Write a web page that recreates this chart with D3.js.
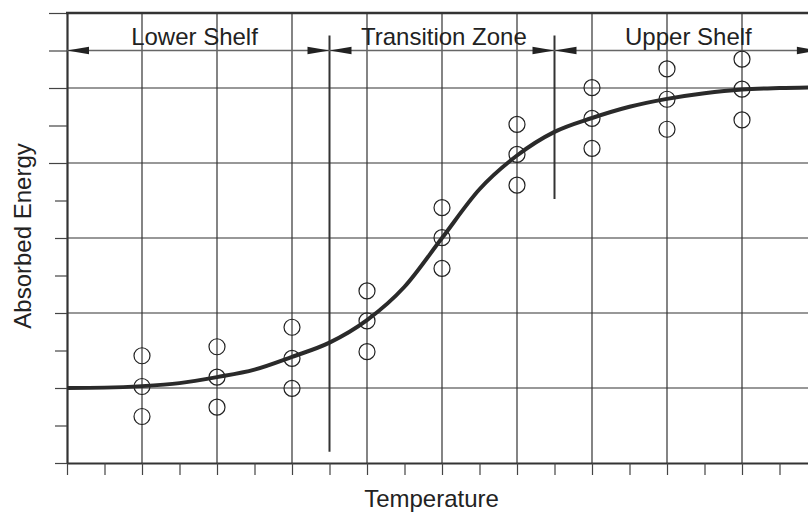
<!DOCTYPE html>
<html>
<head>
<meta charset="utf-8">
<script src="https://cdn.jsdelivr.net/npm/d3@7"></script>
<style>
  html, body { margin: 0; padding: 0; background: #fff; }
  svg { display: block; overflow: hidden; }
  text { font-family: "Liberation Sans", Arial, Helvetica, sans-serif; fill: #222; }
</style>
</head>
<body>
<svg id="chart" width="808" height="512"></svg>
<script>
// measured test points (three specimens per temperature)
const temps = [2, 4, 6, 8, 10, 12, 14, 16, 18];
const energyHigh = [2.86, 3.10, 3.62, 4.59, 6.81, 9.03, 10.01, 10.51, 10.77];
const energyMid = [2.04, 2.29, 2.79, 3.79, 6.01, 8.23, 9.19, 9.70, 9.97];
const energyLow = [1.24, 1.49, 1.99, 2.97, 5.19, 7.41, 8.39, 8.90, 9.15];

// fitted transition curve
const fitTemps = [0, 1, 2, 3, 4, 5, 6, 7, 8, 9, 10, 11, 12, 13, 14, 15, 16, 17, 18, 19, 20];
const fitEnergy = [2.00, 2.01, 2.05, 2.13, 2.29, 2.49, 2.83, 3.21, 3.81, 4.70, 6.00, 7.30, 8.20, 8.83, 9.20, 9.50, 9.71, 9.86, 9.96, 10.00, 10.02];

// zones
const zoneNames = ['Lower Shelf', 'Transition Zone', 'Upper Shelf'];
const zoneBounds = [0, 7, 13, 20.05];
const zoneLabelTemps = [3.4, 10.05, 16.57];
const dividerTemps = [7, 13];
const dividerBottoms = [0.3, 7.04];
const dividerTop = 11.4;
const arrowLevel = 11;

const svg = d3.select('#chart');

const x = d3.scaleLinear().domain([0, 20]).range([67, 817]);
const y = d3.scaleLinear().domain([0, 12]).range([463, 13]);

// Grid
const grid = svg.append('g');
grid.selectAll('.vgrid')
    .data(d3.range(2, 20, 2))
    .enter().append('line')
    .attr('x1', d => x(d)).attr('x2', d => x(d))
    .attr('y1', y(12)).attr('y2', y(0))
    .attr('stroke', '#333').attr('stroke-width', 1.2);
grid.selectAll('.hgrid')
    .data(d3.range(2, 12, 2))
    .enter().append('line')
    .attr('x1', x(0)).attr('x2', x(20))
    .attr('y1', d => y(d)).attr('y2', d => y(d))
    .attr('stroke', '#333').attr('stroke-width', 1.2);

// Axes (no labels)
const xAxis = svg.append('g')
    .attr('transform', `translate(0,${y(0)})`)
    .call(d3.axisBottom(x).tickValues(d3.range(0, 20, 1)).tickSizeInner(12).tickSizeOuter(0).tickFormat(''));
xAxis.select('.domain').attr('stroke', '#333').attr('stroke-width', 2.2);
xAxis.selectAll('.tick line').attr('stroke', '#444').attr('stroke-width', 1.2);

const yAxis = svg.append('g')
    .attr('transform', `translate(${x(0)},0)`)
    .call(d3.axisLeft(y).tickValues(d3.range(0, 13, 1)).tickSizeInner(12).tickSizeOuter(0).tickFormat(''));
yAxis.select('.domain').attr('stroke', '#333').attr('stroke-width', 2.2);
yAxis.selectAll('.tick line')
    .attr('x2', d => d >= 8 ? -18 : -12)
    .attr('stroke', '#444').attr('stroke-width', 1.2);

// top border
svg.append('line')
    .attr('x1', x(0) - 1).attr('x2', x(20))
    .attr('y1', y(12)).attr('y2', y(12))
    .attr('stroke', '#333').attr('stroke-width', 2.4);

// Zone dividers
svg.selectAll('.divider')
    .data(dividerTemps)
    .enter().append('line')
    .attr('x1', d => x(d)).attr('x2', d => x(d))
    .attr('y1', y(dividerTop)).attr('y2', (d, i) => y(dividerBottoms[i]))
    .attr('stroke', '#333').attr('stroke-width', 2);

// Dimension line with arrows
svg.append('line')
    .attr('x1', x(0)).attr('x2', x(20))
    .attr('y1', y(arrowLevel)).attr('y2', y(arrowLevel))
    .attr('stroke', '#666').attr('stroke-width', 1.4);

const arrowLen = 22, arrowHalf = 3.7;
const arrowTips = [];
zoneNames.forEach((name, i) => {
    arrowTips.push({ t: zoneBounds[i], dir: -1 });
    arrowTips.push({ t: zoneBounds[i + 1], dir: 1 });
});
svg.selectAll('.arrow')
    .data(arrowTips.filter(a => a.t > 0 || a.dir < 0))
    .enter().append('path')
    .attr('d', a => {
        const tx = x(a.t), ty = y(arrowLevel);
        const bx = tx - a.dir * arrowLen;
        return `M${tx},${ty}L${bx},${ty - arrowHalf}L${bx},${ty + arrowHalf}Z`;
    })
    .attr('fill', '#222');

// Zone labels
svg.selectAll('.zone-label')
    .data(zoneNames)
    .enter().append('text')
    .attr('x', (d, i) => x(zoneLabelTemps[i]))
    .attr('y', y(11.15))
    .attr('text-anchor', 'middle')
    .attr('font-size', '24px')
    .text(d => d);

// Data points
const points = [];
temps.forEach((t, i) => {
    points.push([t, energyHigh[i]], [t, energyMid[i]], [t, energyLow[i]]);
});
svg.selectAll('.pt')
    .data(points)
    .enter().append('circle')
    .attr('cx', d => x(d[0]))
    .attr('cy', d => y(d[1]))
    .attr('r', 8)
    .attr('fill', 'none')
    .attr('stroke', '#222')
    .attr('stroke-width', 1.2);

// Fitted curve
const line = d3.line()
    .x((d, i) => x(fitTemps[i]))
    .y(d => y(d))
    .curve(d3.curveMonotoneX);
svg.append('path')
    .datum(fitEnergy)
    .attr('d', line)
    .attr('fill', 'none')
    .attr('stroke', '#2a2a2a')
    .attr('stroke-width', 4);

// Axis titles
svg.append('text')
    .attr('transform', 'translate(31,236) rotate(-90)')
    .attr('text-anchor', 'middle')
    .attr('font-size', '24px')
    .text('Absorbed Energy');

svg.append('text')
    .attr('x', 431.5)
    .attr('y', 507)
    .attr('text-anchor', 'middle')
    .attr('font-size', '24px')
    .text('Temperature');
</script>
</body>
</html>
